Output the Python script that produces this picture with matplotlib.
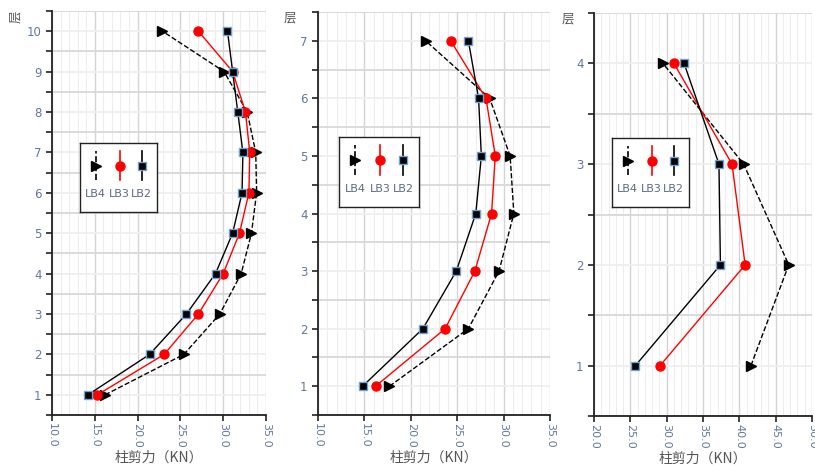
import matplotlib
matplotlib.use("Agg")
import matplotlib.pyplot as plt
from matplotlib.ticker import MultipleLocator, FixedLocator, NullFormatter

plt.rcParams['font.family'] = ['DejaVu Sans', 'Noto Sans CJK SC']

# panel 1: 10 floors
floors_a = [1, 2, 3, 4, 5, 6, 7, 8, 9, 10]
lb2_a = [14.2, 21.4, 25.7, 29.1, 31.1, 32.2, 32.3, 31.7, 31.1, 30.5]
lb3_a = [15.3, 23.1, 27.1, 30.0, 31.9, 33.0, 33.1, 32.6, 31.1, 27.1]
lb4_a = [16.2, 25.4, 29.6, 32.1, 33.3, 33.9, 33.8, 32.8, 30.1, 22.9]

# panel 2: 7 floors
floors_b = [1, 2, 3, 4, 5, 6, 7]
lb2_b = [14.8, 21.3, 24.9, 27.0, 27.6, 27.3, 26.2]
lb3_b = [16.2, 23.7, 26.9, 28.7, 29.1, 28.1, 24.3]
lb4_b = [17.7, 26.2, 29.5, 31.1, 30.7, 28.5, 21.6]

# panel 3: 4 floors
floors_c = [1, 2, 3, 4]
lb2_c = [25.7, 37.4, 37.2, 32.4]
lb3_c = [29.1, 40.8, 39.0, 31.0]
lb4_c = [41.6, 46.8, 40.6, 29.5]

xlims = [(10, 35), (10, 35), (20, 50)]
series_names = ["LB4", "LB3", "LB2"]
xlabel = "柱剪力（KN）"
ylabel = "层"

TICK_COLOR = "#60789a"

styles = {
    "LB4": dict(color="black", ls="--", lw=1.0, marker=">", ms=6.5, mfc="black", mec="black"),
    "LB3": dict(color="red", ls="-", lw=1.0, marker="o", ms=6.5, mfc="red", mec="red"),
    "LB2": dict(color="black", ls="-", lw=1.0, marker="s", ms=6, mfc="black", mec="#6fa3d6", mew=1.0),
}

fig = plt.figure(figsize=(8.15, 4.68), dpi=100)
positions = [
    [0.0638, 0.1132, 0.2626, 0.8633],
    [0.3902, 0.1132, 0.2847, 0.8611],
    [0.7288, 0.1111, 0.2675, 0.8611],
]
legend_boxes = [
    [0.131, 0.502, 0.36, 0.171],
    [0.0905, 0.516, 0.345, 0.174],
    [0.083, 0.519, 0.353, 0.171],
]
panels = [
    (floors_a, lb2_a, lb3_a, lb4_a),
    (floors_b, lb2_b, lb3_b, lb4_b),
    (floors_c, lb2_c, lb3_c, lb4_c),
]

for i, (floors, lb2, lb3, lb4) in enumerate(panels):
    ax = fig.add_axes(positions[i])
    data = {"LB4": lb4, "LB3": lb3, "LB2": lb2}
    for name in ["LB4", "LB3", "LB2"]:
        ax.plot(data[name], floors, zorder=3, clip_on=False, **styles[name])

    ax.set_xlim(*xlims[i])
    ax.set_ylim(0.5, max(floors) + 0.5)
    ax.xaxis.set_major_locator(MultipleLocator(5))
    ax.xaxis.set_minor_locator(MultipleLocator(1))
    ax.yaxis.set_major_locator(MultipleLocator(1))
    ax.yaxis.set_minor_locator(FixedLocator([f + 0.5 for f in range(0, max(floors) + 1)]))
    ax.yaxis.set_minor_formatter(NullFormatter())
    ax.set_xticklabels([f"{v:.1f}" for v in ax.get_xticks()], rotation=270,
                       color=TICK_COLOR, fontsize=8)
    ax.tick_params(axis="y", which="major", labelcolor=TICK_COLOR, labelsize=8.5,
                   length=4, width=1.2, color="#222222")
    ax.tick_params(axis="y", which="minor", length=4, width=1.2, color="#222222")
    ax.tick_params(axis="x", which="major", length=4, width=1.2, color="#222222", pad=2)
    ax.tick_params(axis="x", which="minor", length=0)

    ax.grid(axis="x", which="major", color="#d4d4d4", lw=1.0)
    ax.grid(axis="x", which="minor", color="#ededed", lw=0.8)
    ax.grid(axis="y", which="minor", color="#d8d8d8", lw=1.3)
    ax.grid(axis="y", which="major", color="#efefef", lw=1.3)
    ax.set_axisbelow(True)

    for side in ["top", "right"]:
        ax.spines[side].set_visible(False)
    for side in ["left", "bottom"]:
        ax.spines[side].set_color("#222222")
        ax.spines[side].set_linewidth(1.3)

    ax.set_xlabel(xlabel, fontsize=10, color="#555555",
                  family=["Noto Sans CJK SC", "DejaVu Sans"])
    ax.xaxis.set_label_coords(0.5, -0.088)
    ax.text(-0.17 if i == 0 else -0.12, 0.985, ylabel, transform=ax.transAxes,
            fontsize=9, color="#555555", ha="center", va="center",
            rotation=90 if i == 0 else 0, family=["Noto Sans CJK SC"])

    # legend box with vertical entries and labels underneath
    lg = ax.inset_axes(legend_boxes[i])
    lg.set_xlim(0, 1)
    lg.set_ylim(0, 1)
    lg.set_xticks([])
    lg.set_yticks([])
    for sp in lg.spines.values():
        sp.set_color("#222222")
        sp.set_linewidth(1.0)
    for k, name in enumerate(series_names):
        xc = [0.205, 0.515, 0.80][k]
        st = dict(styles[name])
        lg.plot([xc, xc], [0.46, 0.88], color=st["color"], ls=st["ls"], lw=1.2)
        lg.plot([xc], [0.67], ls="none", marker=st["marker"], ms=st["ms"],
                mfc=st["mfc"], mec=st["mec"], mew=st.get("mew", 1.0))
        lg.text(xc, 0.26, name, ha="center", va="center", fontsize=8, color="#5a6b85")

fig.savefig("out.png", dpi=100)
